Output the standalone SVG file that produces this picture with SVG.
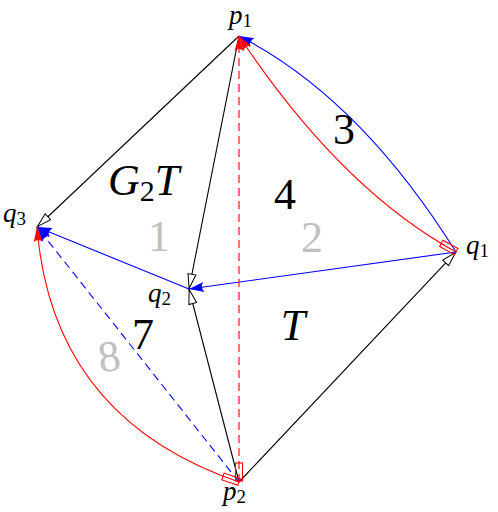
<svg xmlns="http://www.w3.org/2000/svg" width="498" height="512" viewBox="0 0 498 512">
<style>
.k{fill:none;stroke:#000;stroke-width:1.1}
.b{fill:none;stroke:#00f;stroke-width:1.1}
.r{fill:none;stroke:#f00;stroke-width:1.1}
.d{stroke-dasharray:8,5}
.lab{font-family:"Liberation Serif","DejaVu Serif",serif;fill:#000}
.it{font-style:italic}
.big{font-size:44px}
.sm{font-size:27px}
.g{fill:#c0c0c0}
</style>
<defs>
<marker id="ab" viewBox="-16 -6 17 12" refX="0" refY="0" markerWidth="17" markerHeight="12" orient="auto" markerUnits="userSpaceOnUse"><path d="M0,0 L-15,-5 Q-11,0 -15,5 Z" fill="#00f"/></marker>
<marker id="ar" viewBox="-16 -6 17 12" refX="0" refY="0" markerWidth="17" markerHeight="12" orient="auto" markerUnits="userSpaceOnUse"><path d="M0,0 L-15,-4.5 Q-11,0 -15,4.5 Z" fill="#f00"/></marker>
<marker id="ak" viewBox="-17 -6 18 12" refX="0" refY="0" markerWidth="18" markerHeight="12" orient="auto" markerUnits="userSpaceOnUse"><path d="M-0.5,0 L-15,-4 L-15,4 Z" fill="#fff" stroke="#000" stroke-width="1"/></marker>
</defs>
<g id="connectors">
<path class="k" d="M239,36 L37,227" marker-end="url(#ak)"/>
<path class="k" d="M239,36 L189,289" marker-end="url(#ak)"/>
<path class="k" d="M239,482 L189,289" marker-end="url(#ak)"/>
<path class="k" d="M239,482 L456,252" marker-end="url(#ak)"/>
<path class="b" d="M456,252 L189,289" marker-end="url(#ab)"/>
<path class="b" d="M189,289 L37,227" marker-end="url(#ab)"/>
<path class="b" d="M456,252 Q359,97 239,36" marker-end="url(#ab)"/>
<path class="r" d="M456,252 Q340,188 239,36" marker-end="url(#ar)"/>
<path class="r d" d="M239,482 L239,36" marker-end="url(#ar)"/>
<path class="b d" d="M239,482 L37,227" marker-end="url(#ab)"/>
<path class="r" d="M239,482 Q52,418 37,227" marker-end="url(#ar)"/>
<rect class="r" transform="translate(456,252) rotate(28.9)" x="-17" y="-4" width="17" height="7"/>
<rect class="r" x="235.5" y="463" width="7" height="18"/>
<rect class="r" transform="translate(239,482) rotate(199.2)" x="0" y="-3.5" width="17" height="7"/>
</g>
<g id="p1"><text class="lab sm" x="229" y="24"><tspan class="it">p</tspan><tspan font-size="19" dy="3">1</tspan></text></g>
<g id="q1"><text class="lab sm" x="466" y="254"><tspan class="it">q</tspan><tspan font-size="19" dy="3">1</tspan></text></g>
<g id="q3"><text class="lab sm" x="3" y="222"><tspan class="it">q</tspan><tspan font-size="19" dy="3">3</tspan></text></g>
<g id="q2"><text class="lab sm" x="148" y="302"><tspan class="it">q</tspan><tspan font-size="19" dy="3">2</tspan></text></g>
<g id="p2"><text class="lab sm" x="223" y="500"><tspan class="it">p</tspan><tspan font-size="19" dy="3">2</tspan></text></g>
<g id="labels">
<text class="lab big" x="344" y="144" text-anchor="middle">3</text>
<text class="lab big" x="285" y="209" text-anchor="middle">4</text>
<text class="lab big" x="108" y="195"><tspan class="it">G</tspan><tspan font-size="30" dy="6">2</tspan><tspan class="it" dy="-6">T</tspan></text>
<text class="lab big g" x="159" y="251" text-anchor="middle">1</text>
<text class="lab big g" x="312" y="252" text-anchor="middle">2</text>
<text class="lab big" x="143" y="349" text-anchor="middle">7</text>
<text class="lab big g" transform="rotate(-8 109 356)" x="109" y="371" text-anchor="middle">8</text>
<text class="lab big it" x="293" y="340" text-anchor="middle">T</text>
</g>
</svg>
